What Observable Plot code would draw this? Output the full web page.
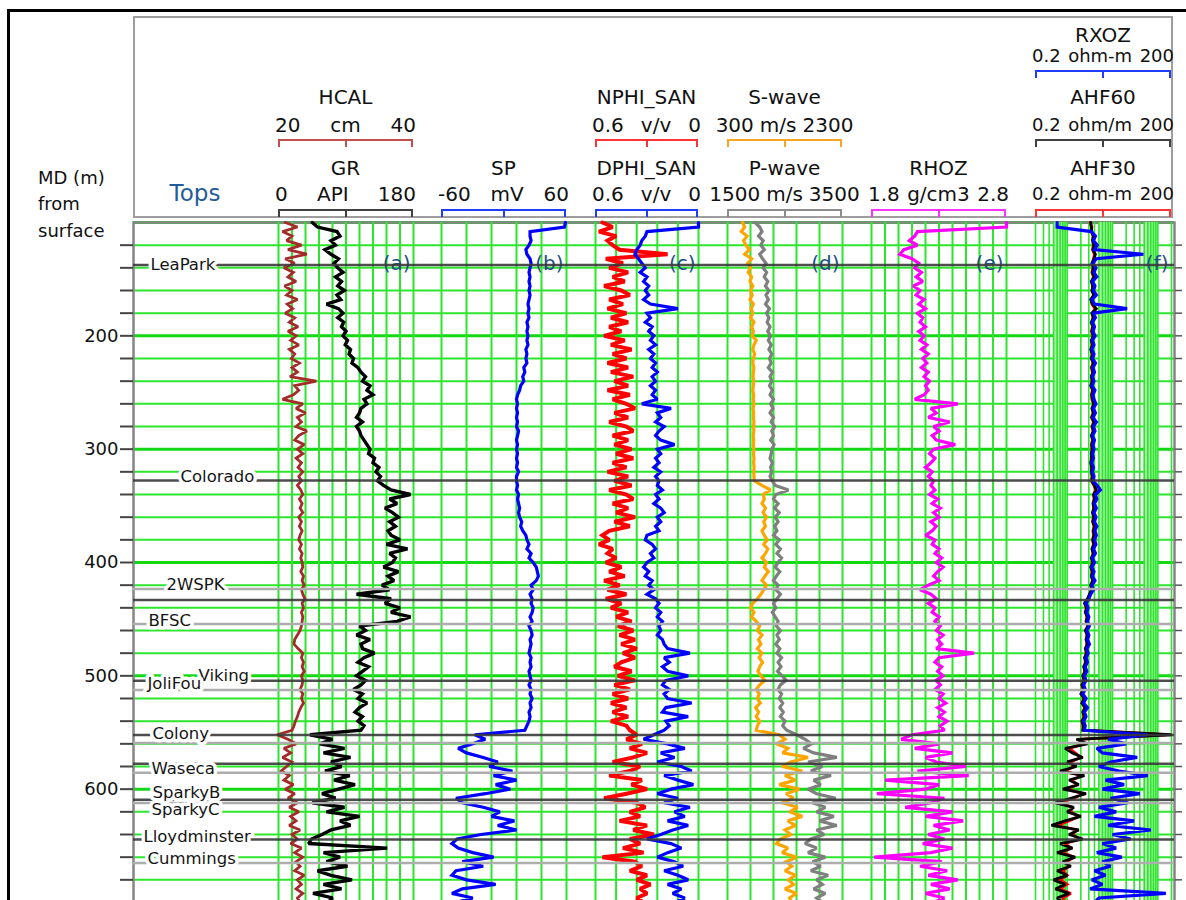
<!DOCTYPE html>
<html lang="en">
<head>
<meta charset="utf-8">
<title>Well log display</title>
<script src="https://cdn.jsdelivr.net/npm/d3@7"></script>
<script src="https://cdn.jsdelivr.net/npm/@observablehq/plot@0.6"></script>
<style>
  html, body { margin: 0; padding: 0; background: #fff; }
  #sheet { position: relative; width: 1186px; height: 900px; overflow: hidden; background: #fff;
           font-family: "DejaVu Sans", Verdana, sans-serif; color: #111; }
  #sheet > * { position: absolute; }
  .lbl { white-space: nowrap; line-height: 1; transform: translate(-50%, -50%); }
  .side { white-space: nowrap; line-height: 1; transform: translate(0, -50%); }
  .scale { display: flex; justify-content: space-between; gap: 6px; white-space: nowrap; line-height: 1;
           transform: translate(-50%, -50%); }
  .bracket { box-sizing: border-box; height: 8px; border: 2px solid currentColor; border-bottom: none; }
  .bracket::after { content: ""; position: absolute; left: 50%; top: 0; width: 2px; height: 6px;
                    margin-left: -1px; background: currentColor; }
</style>
</head>
<body>
<div id="sheet"></div>
<script>
// ---------------------------------------------------------------------------
// Log readings: one sample every 4 m of measured depth, starting at 100 m.
// ---------------------------------------------------------------------------
const DEPTH_START = 100;
const DEPTH_STEP = 4;

// Gamma ray, API
const gr = [
  45, 52, 78, 82, 70, 76, 62, 70, 80, 74, 79, 86, 76, 84, 79, 88, 78, 83, 64, 80,
  86, 79, 87, 84, 90, 86, 92, 89, 96, 94, 100, 98, 106, 110, 116, 112, 122, 118, 126, 114,
  118, 110, 108, 104, 112, 104, 108, 110, 114, 118, 122, 120, 128, 126, 134, 130, 136, 132, 140, 150,
  176, 148, 158, 142, 152, 160, 148, 156, 146, 150, 162, 144, 172, 148, 156,
  152, 140, 160, 146, 154, 138, 148, 104, 150, 142, 162, 150, 176, 158, 108, 116, 104, 122, 110, 112,
  128, 114, 106, 120, 112, 104, 116, 110, 100, 112, 106, 118, 108, 102, 112, 106, 114, 110,
  42, 72, 55, 88, 60, 96, 70, 84, 62, 95, 74, 102, 80, 58, 76, 45, 88, 64, 108, 82,
  96, 70, 58, 44, 40, 145, 60, 82, 64, 92, 52, 70, 98, 60, 84, 46, 72, 66
];

// Caliper, cm
const hcal = [
  21.0, 22.8, 20.6, 22.0, 21.2, 23.4, 21.4, 24.2, 21.0, 22.4, 20.8, 22.2, 21.4, 22.6, 20.9, 22.0, 21.2, 22.8, 21.3, 22.1,
  21.0, 22.4, 21.6, 22.9, 21.4, 22.6, 21.8, 23.0, 21.6, 22.4, 21.9, 23.1, 22.0, 22.8, 21.7, 25.6, 22.4, 23.0, 22.2, 20.6,
  23.6, 22.6, 24.0, 22.8, 23.4, 22.6, 24.2, 23.0, 22.4, 23.8, 22.8, 23.6, 22.6, 23.4, 22.9, 23.6, 23.0, 23.4, 22.8, 23.3,
  23.6, 23.1, 23.5, 23.2, 23.6, 23.0, 23.4, 23.1, 23.5, 23.2, 23.0, 23.4, 23.1, 23.5, 23.3,
  23.5, 23.6, 23.3, 23.7, 23.5, 23.8, 23.4, 23.6, 23.9, 23.5, 23.7, 23.4, 23.6, 23.5, 23.4, 23.2, 22.8, 22.4, 22.3, 22.9,
  23.6, 23.4, 23.7, 23.5, 23.8, 23.4, 23.6, 23.5, 23.2, 23.6, 23.4, 23.7, 23.3, 23.0, 22.8, 22.5, 22.3, 22.0,
  19.8, 21.4, 22.6, 20.8, 21.8, 20.6, 22.0, 21.2, 20.4, 21.6, 20.8, 22.2, 21.0, 22.4, 21.4, 22.8, 21.6, 23.0, 21.8, 22.6,
  21.6, 23.2, 22.0, 22.8, 21.8, 23.4, 22.4, 23.6, 22.6, 23.2, 22.4, 23.8, 22.8, 23.4, 22.6, 23.6, 22.8, 23.2
];

// Spontaneous potential, mV
const sp = [
  59, 58, 25, 25, 26, 24, 21, 22, 25, 26, 25, 24, 25, 24, 25, 24, 25, 24, 23, 24,
  23, 24, 22, 23, 22, 23, 22, 23, 21, 22, 21, 22, 19, 20, 18, 19, 16, 15, 13, 12,
  13, 12, 13, 12, 13, 12, 14, 13, 12, 13, 12, 13, 12, 13, 12, 14, 12, 12, 13, 12,
  14, 13, 14, 15, 14, 15, 17, 16, 18, 21, 22, 24, 22, 26, 24,
  28, 31, 32, 33, 31, 26, 28, 25, 27, 26, 28, 27, 25, 27, 24, 26, 27, 25, 26, 25,
  24, 26, 25, 26, 24, 25, 26, 24, 26, 25, 27, 25, 26, 24, 25, 24, 22, 20,
  -28, -18, -30, -44, -36, -20, -6, -14, 8, -10, 12, -8, 6, -18, -46, -40, -20, -4, -12, 10,
  -6, 12, -22, -45, -50, -44, -30, -10, -40, -20, -46, -50, -36, -8, -40, -50, -30, -46
];

// Neutron porosity (sandstone matrix), v/v
const nphi = [
  0.56, 0.50, 0.58, 0.48, 0.53, 0.50, 0.46, 0.18, 0.54, 0.44, 0.52, 0.41, 0.50, 0.43, 0.55, 0.45, 0.40, 0.52, 0.44, 0.53,
  0.42, 0.51, 0.41, 0.52, 0.45, 0.55, 0.43, 0.51, 0.39, 0.50, 0.42, 0.53, 0.41, 0.51, 0.38, 0.49, 0.41, 0.53, 0.40, 0.50,
  0.42, 0.37, 0.49, 0.41, 0.52, 0.42, 0.38, 0.50, 0.41, 0.49, 0.39, 0.48, 0.38, 0.50, 0.42, 0.53, 0.41, 0.49, 0.39, 0.52,
  0.42, 0.38, 0.50, 0.41, 0.48, 0.37, 0.49, 0.40, 0.52, 0.56, 0.52, 0.58, 0.50, 0.53, 0.48,
  0.54, 0.45, 0.52, 0.43, 0.55, 0.46, 0.53, 0.42, 0.54, 0.45, 0.51, 0.41, 0.48, 0.39, 0.47, 0.38, 0.46, 0.37, 0.45, 0.36,
  0.44, 0.37, 0.45, 0.49, 0.39, 0.47, 0.37, 0.49, 0.40, 0.50, 0.41, 0.51, 0.42, 0.50, 0.41, 0.51, 0.42, 0.40,
  0.36, 0.42, 0.33, 0.40, 0.30, 0.38, 0.50, 0.34, 0.40, 0.52, 0.33, 0.39, 0.30, 0.42, 0.55, 0.36, 0.31, 0.40, 0.34, 0.46,
  0.30, 0.38, 0.26, 0.40, 0.34, 0.44, 0.32, 0.56, 0.37, 0.33, 0.40, 0.30, 0.36, 0.28, 0.34, 0.30, 0.36, 0.32
];

// Density porosity (sandstone matrix), v/v
const dphi = [
  0.00, 0.00, 0.30, 0.31, 0.33, 0.34, 0.36, 0.37, 0.35, 0.33, 0.31, 0.34, 0.30, 0.32, 0.29, 0.31, 0.29, 0.32, 0.28, 0.12,
  0.30, 0.28, 0.31, 0.27, 0.29, 0.26, 0.28, 0.25, 0.29, 0.26, 0.28, 0.25, 0.27, 0.24, 0.27, 0.25, 0.28, 0.25, 0.27, 0.24,
  0.33, 0.16, 0.24, 0.22, 0.25, 0.20, 0.23, 0.25, 0.22, 0.14, 0.24, 0.22, 0.25, 0.23, 0.26, 0.22, 0.25, 0.23, 0.24, 0.21,
  0.25, 0.23, 0.26, 0.22, 0.20, 0.24, 0.22, 0.25, 0.23, 0.30, 0.31, 0.27, 0.25, 0.28, 0.26,
  0.30, 0.32, 0.29, 0.31, 0.27, 0.29, 0.26, 0.30, 0.25, 0.23, 0.25, 0.22, 0.24, 0.21, 0.23, 0.22, 0.24, 0.21, 0.20, 0.18,
  0.05, 0.20, 0.17, 0.21, 0.18, 0.06, 0.19, 0.21, 0.17, 0.20, 0.18, 0.04, 0.19, 0.21, 0.06, 0.19, 0.17, 0.20,
  0.26, 0.32, 0.18, 0.08, 0.22, 0.14, 0.24, 0.10, 0.04, 0.20, 0.12, 0.03, 0.16, 0.24, 0.12, 0.20, 0.05, 0.14, 0.08, 0.18,
  0.06, 0.15, 0.22, 0.30, 0.16, 0.10, 0.18, 0.24, 0.14, 0.09, 0.20, 0.12, 0.06, 0.18, 0.10, 0.15, 0.08, 0.14
];

// Shear-wave velocity, m/s
const vs = [
  560, 600, 540, 640, 580, 620, 680, 600, 720, 650, 700, 660, 720, 690, 740, 700, 730, 690, 750, 710,
  740, 700, 760, 720, 750, 730, 800, 760, 740, 770, 750, 740, 760, 750, 745, 755, 750, 740, 755, 750,
  760, 745, 755, 750, 760, 752, 758, 748, 755, 750, 758, 752, 760, 754, 762, 756, 760, 765, 900, 1050,
  920, 940, 900, 960, 920, 980, 930, 960, 900, 940, 990, 930, 1000, 960, 900,
  980, 940, 1010, 950, 900, 980, 930, 880, 820, 740, 700, 760, 720, 800, 860, 820, 900, 840, 880, 820,
  900, 850, 910, 860, 830, 880, 950, 860, 800, 850, 820, 870, 790, 840, 800, 860, 820, 800,
  1200, 1300, 1150, 1350, 1260, 1700, 1400, 1250, 1600, 1300, 1480, 1200, 1550, 1320, 1450, 1250, 1520, 1380, 1600, 1350,
  1480, 1300, 1400, 1220, 1150, 1350, 1250, 1500, 1320, 1420, 1300, 1480, 1360, 1450, 1300, 1500, 1380, 1420
];

// Compressional-wave velocity, m/s
const vp = [
  1980, 2060, 2100, 2040, 2120, 2080, 2140, 2060, 2110, 2170, 2120, 2180, 2140, 2200, 2160, 2220, 2170, 2210, 2160, 2230,
  2180, 2220, 2190, 2240, 2200, 2250, 2210, 2260, 2220, 2270, 2230, 2260, 2210, 2280, 2240, 2270, 2230, 2280, 2240, 2300,
  2250, 2290, 2240, 2300, 2260, 2320, 2270, 2300, 2250, 2310, 2270, 2260, 2240, 2280, 2250, 2270, 2240, 2280, 2330, 2560,
  2340, 2300, 2380, 2320, 2400, 2330, 2380, 2320, 2360, 2300, 2400, 2340, 2420, 2360, 2440,
  2380, 2330, 2410, 2350, 2300, 2380, 2340, 2420, 2360, 2300, 2340, 2280, 2330, 2380, 2350, 2420, 2360, 2400, 2340, 2410,
  2360, 2440, 2380, 2430, 2370, 2450, 2520, 2420, 2380, 2440, 2400, 2460, 2410, 2470, 2420, 2500, 2460, 2530,
  2700, 2850, 2960, 2820, 3000, 3400, 2900, 3150, 2950, 3300, 3000, 3120, 2900, 3050, 3380, 2980, 3200, 3050, 3350, 3100,
  3400, 3050, 3180, 2950, 2850, 3050, 2900, 3200, 2980, 3120, 2950, 3250, 3050, 3150, 3000, 3200, 3050, 3150
];

// Bulk density, g/cm3
const rhoz = [
  2.80, 2.80, 2.14, 2.12, 2.08, 2.14, 2.04, 2.01, 2.10, 2.15, 2.12, 2.17, 2.13, 2.18, 2.11, 2.16, 2.13, 2.19, 2.15, 2.20,
  2.14, 2.18, 2.16, 2.20, 2.15, 2.19, 2.16, 2.21, 2.17, 2.22, 2.18, 2.21, 2.17, 2.22, 2.19, 2.23, 2.20, 2.22, 2.19, 2.12,
  2.44, 2.24, 2.28, 2.22, 2.38, 2.26, 2.30, 2.25, 2.28, 2.42, 2.26, 2.23, 2.27, 2.24, 2.20, 2.25, 2.22, 2.26, 2.24, 2.27,
  2.23, 2.29, 2.25, 2.31, 2.26, 2.30, 2.24, 2.28, 2.25, 2.20, 2.27, 2.25, 2.30, 2.27, 2.32,
  2.28, 2.33, 2.29, 2.26, 2.30, 2.22, 2.16, 2.24, 2.28, 2.22, 2.27, 2.25, 2.30, 2.27, 2.31, 2.28, 2.33, 2.29, 2.32, 2.28,
  2.56, 2.30, 2.27, 2.32, 2.29, 2.33, 2.28, 2.31, 2.27, 2.33, 2.30, 2.35, 2.29, 2.34, 2.30, 2.36, 2.31, 2.34,
  2.10, 2.02, 2.30, 2.12, 2.40, 2.20, 2.28, 2.50, 2.14, 2.52, 1.90, 2.30, 2.20, 1.84, 2.34, 2.24, 2.05, 2.40, 2.20, 2.48,
  2.26, 2.38, 2.22, 2.34, 2.18, 2.40, 2.24, 1.82, 2.32, 2.16, 2.36, 2.22, 2.44, 2.24, 2.38, 2.20, 2.34, 2.26
];

// Flushed-zone resistivity, ohm-m
const rxoz = [
  0.6, 0.6, 3.4, 4.2, 3.8, 4.6, 4.0, 48, 4.4, 3.7, 4.3, 3.9, 4.5, 3.6, 4.1, 3.8, 4.4, 3.5, 4.0, 21,
  3.8, 4.2, 3.6, 4.0, 3.7, 4.1, 3.6, 3.9, 3.5, 3.9, 3.6, 4.2, 3.7, 4.0, 3.6, 3.9, 3.5, 4.1, 3.7, 3.9,
  4.3, 3.8, 4.2, 3.7, 4.4, 3.8, 4.1, 3.6, 4.0, 3.7, 3.9, 3.6, 3.8, 3.5, 3.8, 3.6, 3.9, 3.7, 4.6, 5.4,
  4.2, 4.5, 4.0, 4.4, 3.9, 4.3, 4.0, 4.5, 4.1, 4.4, 4.0, 4.3, 3.8, 4.2, 3.6,
  4.0, 3.5, 3.9, 3.6, 4.1, 3.5, 3.8, 3.3, 3.0, 2.6, 2.9, 2.7, 3.0, 2.8, 3.1, 2.7, 3.0, 2.8, 3.1, 2.7,
  2.9, 2.6, 2.8, 2.5, 2.7, 2.4, 2.6, 2.3, 2.5, 2.2, 2.6, 2.3, 2.8, 2.4, 2.6, 2.3, 2.5, 2.4,
  60, 8, 20, 4.5, 6, 35, 9, 5, 14, 60, 7, 18, 6, 40, 9, 22, 5, 12, 4, 30,
  8, 70, 10, 25, 6, 12, 4.5, 16, 6, 9, 4, 7, 3.5, 6, 3.2, 150, 5, 4
];

// Array induction, 60 in. investigation, ohm-m
const ahf60 = [
  3.3, 3.4, 3.5, 3.8, 3.6, 3.9, 3.7, 4.2, 3.9, 3.5, 3.8, 3.6, 3.9, 3.4, 3.7, 3.5, 3.9, 3.3, 3.6, 4.4,
  3.5, 3.8, 3.4, 3.7, 3.5, 3.8, 3.4, 3.6, 3.3, 3.6, 3.4, 3.8, 3.5, 3.7, 3.4, 3.6, 3.3, 3.7, 3.5, 3.6,
  3.9, 3.5, 3.8, 3.5, 3.9, 3.6, 3.8, 3.4, 3.7, 3.5, 3.6, 3.4, 3.5, 3.3, 3.5, 3.4, 3.6, 3.5, 4.0, 4.4,
  3.8, 4.0, 3.7, 3.9, 3.6, 3.9, 3.7, 4.0, 3.8, 3.9, 3.7, 3.9, 3.5, 3.8, 3.4,
  3.7, 3.3, 3.6, 3.4, 3.7, 3.3, 3.5, 3.1, 2.8, 2.4, 2.7, 2.5, 2.8, 2.6, 2.9, 2.5, 2.8, 2.6, 2.8, 2.5,
  2.7, 2.4, 2.6, 2.3, 2.5, 2.2, 2.4, 2.1, 2.3, 2.0, 2.4, 2.1, 2.5, 2.2, 2.4, 2.1, 2.3, 2.2,
  200, 1.6, 2.8, 0.9, 1.3, 2.2, 1.0, 1.6, 0.7, 2.4, 1.1, 1.8, 0.8, 2.6, 1.2, 0.55, 1.4, 1.0, 2.0, 0.9,
  0.45, 1.8, 1.1, 2.2, 0.7, 1.3, 0.6, 1.5, 0.8, 1.2, 0.6, 1.0, 0.5, 0.9, 0.55, 1.1, 0.6, 0.8
];

// Array induction, 30 in. investigation, ohm-m
const ahf30 = [
  3.2, 3.5, 3.4, 3.7, 3.7, 3.8, 3.6, 4.0, 3.8, 3.6, 3.7, 3.5, 3.8, 3.5, 3.6, 3.6, 3.8, 3.4, 3.5, 4.1,
  3.6, 3.7, 3.5, 3.6, 3.4, 3.7, 3.5, 3.5, 3.4, 3.5, 3.5, 3.7, 3.4, 3.6, 3.5, 3.5, 3.4, 3.6, 3.4, 3.5,
  3.8, 3.6, 3.7, 3.4, 3.8, 3.5, 3.7, 3.5, 3.6, 3.4, 3.5, 3.5, 3.4, 3.4, 3.4, 3.5, 3.5, 3.4, 3.9, 4.2,
  3.9, 3.9, 3.8, 3.8, 3.7, 3.8, 3.6, 3.9, 3.7, 3.8, 3.6, 3.8, 3.6, 3.7, 3.5,
  3.6, 3.4, 3.5, 3.5, 3.6, 3.4, 3.4, 3.2, 2.9, 2.5, 2.6, 2.6, 2.7, 2.7, 2.8, 2.6, 2.7, 2.7, 2.7, 2.6,
  2.6, 2.5, 2.5, 2.4, 2.4, 2.3, 2.3, 2.2, 2.2, 2.1, 2.3, 2.2, 2.4, 2.3, 2.3, 2.2, 2.2, 2.3,
  150, 1.8, 2.4, 1.1, 1.5, 2.0, 1.2, 1.4, 0.9, 2.1, 1.3, 1.6, 1.0, 2.2, 1.4, 0.7, 1.3, 1.2, 1.8, 1.1,
  0.6, 1.6, 1.3, 1.9, 0.9, 1.2, 0.8, 1.4, 1.0, 1.1, 0.8, 1.0, 0.7, 1.0, 0.7, 1.2, 0.8, 0.9
];

// Formation tops: picked depth (m MD) and the pick set each belongs to
const topNames  = ["LeaPark", "Colorado", "2WSPK", "", "BFSC", "Viking", "JoliFou", "Colony", "", "",
                   "Waseca", "SparkyB", "SparkyC", "Lloydminster", "Cummings"];
const topDepths = [137.5, 327.6, 423.3, 433.1, 454.3, 504.4, 512.4, 552.2, 559.2, 577.5,
                   585.5, 609.4, 612.3, 644.4, 665.1];
const topPickSet = ["A", "A", "B", "A", "B", "A", "B", "A", "B", "A", "B", "A", "B", "A", "B"];

// Depth ticks and grid spacing
const depthGridStep = 20;
const depthLabelStep = 100;

// Resistivity track grid (logarithmic cycles) and shaded cycle tails
const resistivityGrid = [0.2, 0.3, 0.4, 0.5, 0.6, 0.7, 0.8, 0.9, 1, 2, 3, 4, 5, 6, 7, 8, 9,
                         10, 20, 30, 40, 50, 60, 70, 80, 90, 100, 200];
const resistivityBands = [[0.5, 1], [5, 10], [50, 100]];

// ---------------------------------------------------------------------------
// Layout
// ---------------------------------------------------------------------------
const DEPTH_DOMAIN = [100, 700];
const PLOT_TOP = 222;
const PLOT_H = 680;
const DATA_LEFT = 133;
const DATA_RIGHT_MARGIN = 12;
const PAGE_W = 1186;

const trackTags  = ["(a)", "(b)", "(c)", "(d)", "(e)", "(f)"];
const trackLeft  = [278, 441, 595, 727, 871, 1035];
const trackWidth = [135, 125, 103, 115, 135, 136];
const trackDivisions = [10, 5, 5, 5, 10, null];

// Header rows: [name line, scale line, bracket line] vertical centres
const headerRows = [[35, 56, 70], [97, 125, 139], [168, 194, 209]];

const GRID = "#2ee52e";
const GRID_MAJOR = "#14d814";
const TAG_COLOR = "#1d4f86";

// Depth increases downwards on every panel
const depthScale = {domain: DEPTH_DOMAIN, reverse: true};

// Curves in drawing order; the first curve of a track also carries its grid
const curves = [
  {name: "GR",       unit: "API",   domain: [0, 180],     track: 0, row: 2, stroke: "#000000", scale: "#404040", width: 3.4, values: gr},
  {name: "HCAL",     unit: "cm",    domain: [20, 40],     track: 0, row: 1, stroke: "#a52a2a", scale: "#c24f4c", width: 2.8, values: hcal},
  {name: "SP",       unit: "mV",    domain: [-60, 60],    track: 1, row: 2, stroke: "#0000ff", scale: "#1f3cff", width: 3.2, values: sp},
  {name: "NPHI_SAN", unit: "v/v",   domain: [0.6, 0],     track: 2, row: 1, stroke: "#ff0000", scale: "#ff3333", width: 4,   values: nphi},
  {name: "DPHI_SAN", unit: "v/v",   domain: [0.6, 0],     track: 2, row: 2, stroke: "#0000ff", scale: "#1f3cff", width: 3.2, values: dphi},
  {name: "P-wave",   unit: "m/s",   domain: [1500, 3500], track: 3, row: 2, stroke: "#7f7f7f", scale: "#8c8c8c", width: 3.2, values: vp},
  {name: "S-wave",   unit: "m/s",   domain: [300, 2300],  track: 3, row: 1, stroke: "#ffa500", scale: "#f5a623", width: 3.2, values: vs},
  {name: "RHOZ",     unit: "g/cm3", domain: [1.8, 2.8],   track: 4, row: 2, stroke: "#ff00ff", scale: "#ff33ff", width: 3.2, values: rhoz},
  {name: "AHF30",    unit: "ohm-m", domain: [0.2, 200],   track: 5, row: 2, stroke: "#ff0000", scale: "#ff3333", width: 2.8, values: ahf30, log: true},
  {name: "AHF60",    unit: "ohm/m", domain: [0.2, 200],   track: 5, row: 1, stroke: "#000000", scale: "#404040", width: 2.8, values: ahf60, log: true},
  {name: "RXOZ",     unit: "ohm-m", domain: [0.2, 200],   track: 5, row: 0, stroke: "#0000ff", scale: "#1f3cff", width: 3.2, values: rxoz, log: true}
];

// Label placement inside the Tops track: [x from track edge (px), vertical nudge (px)]
const topLabelPlacement = {
  "LeaPark": [17, 0], "Colorado": [47, -4], "2WSPK": [33, -4], "BFSC": [15, -3],
  "Viking": [65, -5], "JoliFou": [14, -6], "Colony": [19, -1], "Waseca": [18, -4],
  "SparkyB": [19, -7], "SparkyC": [18, 7], "Lloydminster": [10, -3], "Cummings": [14, -4]
};

// ---------------------------------------------------------------------------
const sheet = document.getElementById("sheet");

function put(cls, css, text) {
  const el = document.createElement("div");
  if (cls) el.className = cls;
  Object.assign(el.style, css);
  if (text != null) el.textContent = text;
  sheet.appendChild(el);
  return el;
}

function place(svg, left, top) {
  svg.style.position = "absolute";
  svg.style.left = left + "px";
  svg.style.top = top + "px";
  sheet.appendChild(svg);
}

const readings = (values) => values.map((v, i) => ({depth: DEPTH_START + i * DEPTH_STEP, value: v}));

// Frame lines of the sheet and the header panel
put(null, {left: "7px", top: "9px", width: "1200px", height: "900px",
           borderLeft: "3px solid #000", borderTop: "3px solid #000"});
put(null, {left: "133px", top: "16px", width: "1040px", height: "202px",
           border: "2px solid #9d9d9d", boxSizing: "border-box"});

// Depth axis caption and Tops track title
put("side", {left: "38px", top: "178px", fontSize: "18px"}, "MD (m)");
put("side", {left: "38px", top: "204px", fontSize: "18px"}, "from");
put("side", {left: "38px", top: "231px", fontSize: "18px"}, "surface");
put("lbl", {left: "195px", top: "193px", fontSize: "23px", color: "#1f5c99"}, "Tops");

// Curve headers: name, scale limits with unit, coloured scale bracket
curves.forEach((c) => {
  const t = c.track;
  const cx = trackLeft[t] + trackWidth[t] / 2;
  const [yName, yScale, yBracket] = headerRows[c.row];
  const fs = c.log ? 18 : 20;
  put("lbl", {left: cx + "px", top: yName + "px", fontSize: "20px"}, c.name);
  const sc = put("scale", {left: cx + "px", top: yScale + "px", fontSize: fs + "px",
                           minWidth: (trackWidth[t] + 6) + "px"});
  [String(c.domain[0]), c.unit, String(c.domain[1])].forEach((s) => {
    const span = document.createElement("span");
    span.textContent = s;
    sc.appendChild(span);
  });
  put("bracket", {left: trackLeft[t] + "px", top: yBracket + "px",
                  width: trackWidth[t] + "px", color: c.scale});
});

// Depth grid, depth axis and data frame
const gridDepths = d3.range(DEPTH_DOMAIN[0], DEPTH_DOMAIN[1] + 1, depthGridStep);
const tickDepths = gridDepths.filter((d) => d > DEPTH_DOMAIN[0] && d < DEPTH_DOMAIN[1]);

place(Plot.plot({
  width: PAGE_W, height: PLOT_H,
  marginLeft: DATA_LEFT, marginRight: DATA_RIGHT_MARGIN, marginTop: 0, marginBottom: 0,
  y: {...depthScale, label: null},
  style: {background: "transparent", overflow: "visible", fontFamily: "DejaVu Sans", fontSize: "18px", color: "#111"},
  marks: [
    Plot.ruleY(gridDepths.filter((d) => d % depthLabelStep !== 0), {stroke: GRID, strokeWidth: 2}),
    Plot.ruleY(gridDepths.filter((d) => d % depthLabelStep === 0), {stroke: GRID_MAJOR, strokeWidth: 3}),
    Plot.frame({stroke: "#858585", strokeWidth: 2.5}),
    Plot.axisY({anchor: "left", ticks: tickDepths, tickSize: 13, tickPadding: 2, label: null,
                tickFormat: (d) => (d % depthLabelStep === 0 ? String(d) : ""), stroke: "#444", strokeWidth: 2}),
    Plot.axisY({anchor: "right", ticks: tickDepths, tickSize: 7, label: null,
                tickFormat: () => "", stroke: "#555", strokeWidth: 1.5})
  ]
}), 0, PLOT_TOP);

// One chart per curve, stacked on its track
const trackStarted = new Set();
curves.forEach((c) => {
  const t = c.track;
  const marks = [];
  if (!trackStarted.has(t)) {
    trackStarted.add(t);
    if (c.log) {
      marks.push(Plot.rect(resistivityBands, {x1: (d) => d[0], x2: (d) => d[1], fill: "#a6f0a6"}));
      marks.push(Plot.ruleX(resistivityGrid, {stroke: GRID, strokeWidth: 1.6}));
    } else {
      const n = trackDivisions[t];
      const [d0, d1] = c.domain;
      const lines = d3.range(n + 1).map((i) => d0 + (d1 - d0) * i / n);
      marks.push(Plot.ruleX(lines, {stroke: GRID, strokeWidth: 2}));
    }
    marks.push(Plot.text([trackTags[t]], {text: (d) => d, frameAnchor: "top-right", textAnchor: "end",
                                          dx: -3, dy: 33, fontSize: 20, fill: TAG_COLOR}));
  }
  marks.push(Plot.line(readings(c.values), {x: "value", y: "depth", stroke: c.stroke,
                                            strokeWidth: c.width, strokeLinejoin: "miter", strokeMiterlimit: 2}));
  place(Plot.plot({
    width: trackWidth[t], height: PLOT_H, margin: 0,
    x: {type: c.log ? "log" : "linear", domain: c.domain, axis: null},
    y: {...depthScale, axis: null},
    style: {background: "transparent", overflow: "visible", fontFamily: "DejaVu Sans"},
    marks
  }), trackLeft[t], PLOT_TOP);
});

// Formation tops: correlation lines across every track, names in the Tops track
const tops = topDepths.map((depth, i) => ({name: topNames[i], depth, set: topPickSet[i]}));
const topLabels = tops.filter((d) => d.name).map((d) => {
  const [lx, ly] = topLabelPlacement[d.name];
  return Plot.text([d], {x: () => lx, y: "depth", dy: ly, text: "name", textAnchor: "start",
                         fontSize: 16.5, fill: "#151515", stroke: "white", strokeWidth: 7, paintOrder: "stroke"});
});

place(Plot.plot({
  width: PAGE_W, height: PLOT_H,
  marginLeft: DATA_LEFT, marginRight: DATA_RIGHT_MARGIN, marginTop: 0, marginBottom: 0,
  x: {domain: [0, PAGE_W - DATA_LEFT - DATA_RIGHT_MARGIN], axis: null},
  y: {...depthScale, axis: null},
  style: {background: "transparent", overflow: "visible", fontFamily: "DejaVu Sans"},
  marks: [
    Plot.ruleY(tops.filter((d) => d.set === "B"), {y: "depth", stroke: "#adadad", strokeWidth: 2.5}),
    Plot.ruleY(tops.filter((d) => d.set === "A"), {y: "depth", stroke: "#3a3a3a", strokeWidth: 2.5, strokeOpacity: 0.9}),
    ...topLabels
  ]
}), 0, PLOT_TOP);
</script>
</body>
</html>
